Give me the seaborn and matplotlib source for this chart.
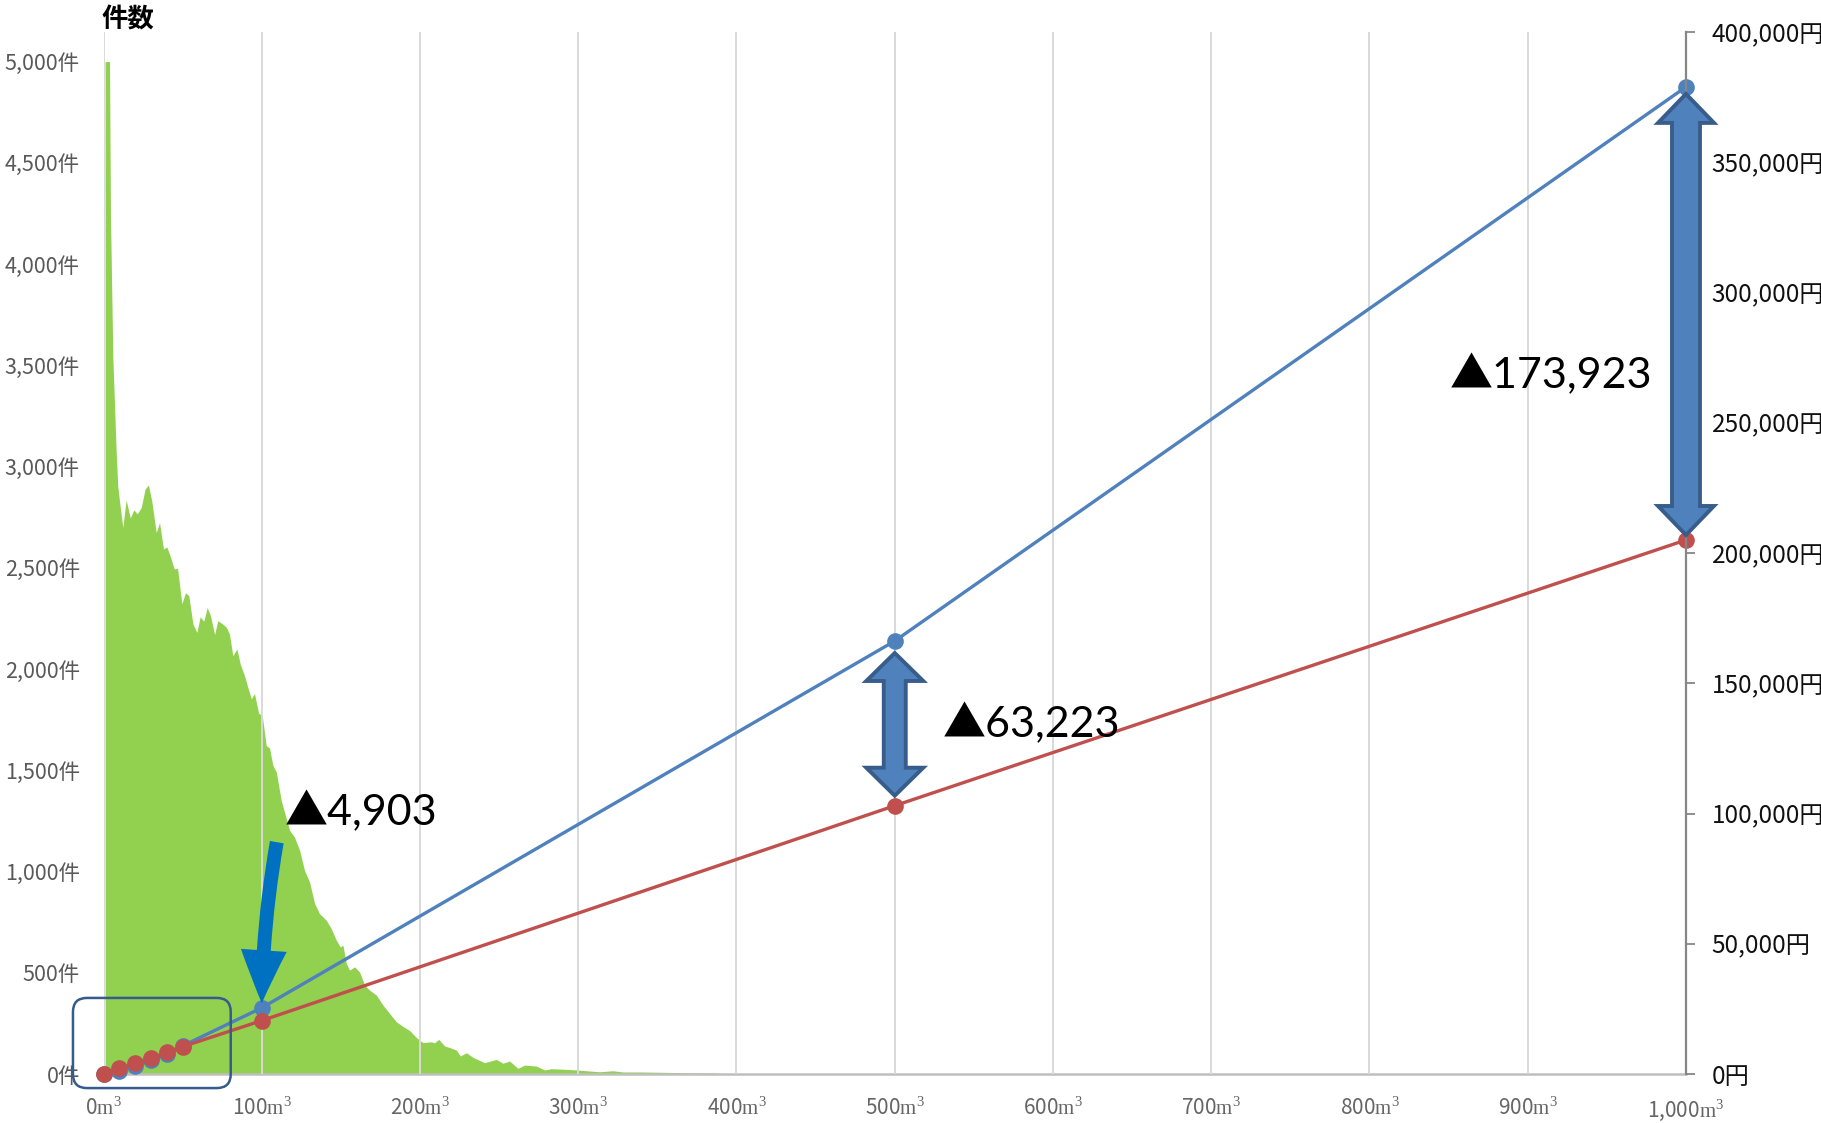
import matplotlib
matplotlib.use("Agg")
import matplotlib.pyplot as plt
import matplotlib.patches as mpatches
from matplotlib.transforms import IdentityTransform
import seaborn as sns

# histogram of usage (count per m3)
usage_m3 = [1, 3.8, 4.4, 5.9, 8.0, 9.0, 10.1, 12.2, 14.3, 16.9, 19.2, 21.3, 23.8,
            26.3, 28.4, 30.5, 33.3, 35.4, 37.9, 40.0, 42.1, 44.7, 46.8, 49.5, 51.8,
            53.9, 56.5, 59.0, 61.1, 63.4, 65.5, 67.6, 70.2, 72.2, 75.4, 77.6, 79.6,
            81.7, 84.3, 86.4, 89.1, 91.2, 93.4, 95.4, 98.0, 100.3, 102.8, 104.9,
            107.0, 109.2, 112.3, 117.6, 120.7, 123.9, 127.0, 130.2, 133.4, 136.5,
            140.8, 143.9, 147.1, 149.6, 151.3, 153.4, 155.5, 158.7, 161.8, 165.0,
            168.2, 172.4, 176.6, 180.8, 185.0, 189.2, 193.4, 197.7, 201.9, 207.1,
            209.2, 211.8, 215.6, 219.0, 223.0, 225.5, 229.3, 233.5, 240.8, 248.3,
            252.4, 256.6, 261.9, 266.1, 273.5, 278.8, 283.0, 292.5, 298.8, 305.1,
            313.5, 321.9, 328.2, 338.8, 356.0, 370.0, 385.0, 400.0]
counts = [5000, 5000, 4250, 3540, 3077, 2904, 2830, 2699, 2835, 2746, 2786, 2766, 2797,
          2889, 2909, 2830, 2674, 2723, 2593, 2603, 2559, 2494, 2497, 2322, 2377,
          2362, 2223, 2181, 2258, 2236, 2304, 2263, 2170, 2239, 2222, 2206, 2173,
          2066, 2099, 2025, 1967, 1910, 1853, 1879, 1782, 1770, 1622, 1610,
          1525, 1491, 1351, 1203, 1170, 1105, 1006, 948, 842, 792,
          759, 718, 661, 628, 636, 546, 513, 529, 504, 439,
          414, 390, 340, 299, 258, 235, 215, 180, 155, 159,
          154, 171, 138, 130, 118, 89, 105, 82, 56, 72,
          53, 64, 28, 44, 39, 20, 26, 23, 20, 16,
          11, 16, 10, 10, 8, 6, 5, 0]

# charges (yen)
volumes = [0, 10, 20, 30, 40, 50, 100, 500, 1000]
charge_blue = [0, 1270, 3200, 5400, 7700, 10800, 25403, 166223, 378923]
charge_red = [0, 2200, 4100, 6000, 8300, 10500, 20500, 103000, 205000]
diff_labels = ["▲4,903", "▲63,223", "▲173,923"]

x_ticks = list(range(0, 1001, 100))
left_ticks = list(range(0, 5001, 500))
right_ticks = list(range(0, 400001, 50000))

sns.set_theme(style="white")
plt.rcParams['font.family'] = ['Noto Sans CJK JP', 'DejaVu Sans']
plt.rcParams['mathtext.fontset'] = 'custom'
plt.rcParams['mathtext.rm'] = 'Liberation Serif'

fig = plt.figure(figsize=(18.21, 11.23), dpi=100)
ax = fig.add_axes([0.05684, 0.04363, 0.86902, 0.92787])
ax2 = ax.twinx()

# area (counts)
ax.fill_between(usage_m3, counts, color='#92D050', lw=0, zorder=1)
ax.set_xlim(0, 1000)
ax.set_ylim(0, 5146)
ax.set_xticks(x_ticks)
ax.set_xticklabels([f"{v:,}" + r"$\mathrm{m}^{3}$" for v in x_ticks],
                   fontsize=15, color='#666666')
ax.set_yticks(left_ticks)
ax.set_yticklabels([f"{v:,}件" for v in left_ticks], fontsize=15.5, color='#595959')
ax.tick_params(axis='y', length=0, pad=17)
ax.tick_params(axis='x', length=0, pad=17)
ax.set_axisbelow(False)
ax.grid(axis='x', color='#D9D9D9', lw=1.4, zorder=1.5)
ax.grid(axis='y', visible=False)
for s in ['top', 'left', 'right']:
    ax.spines[s].set_visible(False)
ax.spines['bottom'].set_color('#BFBFBF')
ax.spines['bottom'].set_linewidth(1.8)

# lines (charges)
sns.lineplot(x=volumes, y=charge_blue, ax=ax2, color='#4F81BD', lw=2.4,
             marker='o', markersize=12, markeredgewidth=0, legend=False)
sns.lineplot(x=volumes, y=charge_red, ax=ax2, color='#C0504D', lw=2.4,
             marker='o', markersize=12, markeredgewidth=0, legend=False)
for ln in ax2.lines:
    ln.set_clip_on(False)
ax2.set_ylim(0, 400000)
ax2.set_xlim(0, 1000)
ax2.set_yticks(right_ticks)
ax2.set_yticklabels([f"{v:,}円" for v in right_ticks], fontsize=17.5, color='#111111')
ax2.tick_params(axis='y', direction='out', length=6.5, width=1.3, color='#868686', pad=12)
for s in ['top', 'left', 'bottom']:
    ax2.spines[s].set_visible(False)
ax2.spines['right'].set_color('#868686')
ax2.spines['right'].set_linewidth(1.6)
ax2.grid(False)
ax2.set_ylabel('')


def double_arrow(x, y_top, y_bot, shaft, head, head_len, gap_top, gap_bot):
    (cx, top), (_, bot) = ax2.transData.transform([(x, y_top), (x, y_bot)])
    top -= gap_top
    bot += gap_bot
    s, h = shaft / 2, head / 2
    verts = [(cx, top), (cx + h, top - head_len), (cx + s, top - head_len),
             (cx + s, bot + head_len), (cx + h, bot + head_len), (cx, bot),
             (cx - h, bot + head_len), (cx - s, bot + head_len),
             (cx - s, top - head_len), (cx - h, top - head_len)]
    poly = mpatches.Polygon(verts, closed=True, facecolor='#4F81BD', edgecolor='#385D8A',
                            lw=2.8, joinstyle='miter', transform=IdentityTransform(),
                            clip_on=False, zorder=5)
    ax2.add_patch(poly)


double_arrow(volumes[7], charge_blue[7], charge_red[7], 22, 57, 28, 12, 10)
double_arrow(volumes[8], charge_blue[8], charge_red[8], 28, 56, 29, 7, 5)

# curved arrow pointing at the 100 m3 point
curve = mpatches.FancyArrowPatch(
    posA=(109.5, 89000), posB=(volumes[6], charge_blue[6] + 1800),
    arrowstyle='simple,head_width=33,head_length=38,tail_width=10',
    connectionstyle='arc3,rad=0.04', mutation_scale=1, shrinkA=0, shrinkB=0,
    color='#0070C0', lw=0, zorder=6)
ax2.add_patch(curve)

# rounded box around the low-usage points
(bx0, by0), (bx1, by1) = ax2.transData.transform([(-19.3, -5400), (80.4, 29200)])
box = mpatches.FancyBboxPatch((bx0, by0), bx1 - bx0, by1 - by0,
                              boxstyle='round,pad=0,rounding_size=14',
                              facecolor='none', edgecolor='#355C8C', lw=1.8,
                              transform=IdentityTransform(), clip_on=False, zorder=6)
ax2.add_patch(box)

# difference labels
label_pos = [(0.1144, 0.239), (0.5305, 0.3237), (0.8505, 0.6583)]
for txt, (fx, fy) in zip(diff_labels, label_pos):
    ax2.text(fx, fy, txt, transform=ax2.transAxes, ha='left', va='baseline',
             fontsize=31, color='black', family=['Lato', 'Noto Sans CJK JP'], zorder=7)

fig.text(102 / 1821, 1 - 20 / 1123, "件数", fontsize=19, color='black',
         ha='left', va='center', weight='bold')

fig.savefig('out.png', dpi=100)
